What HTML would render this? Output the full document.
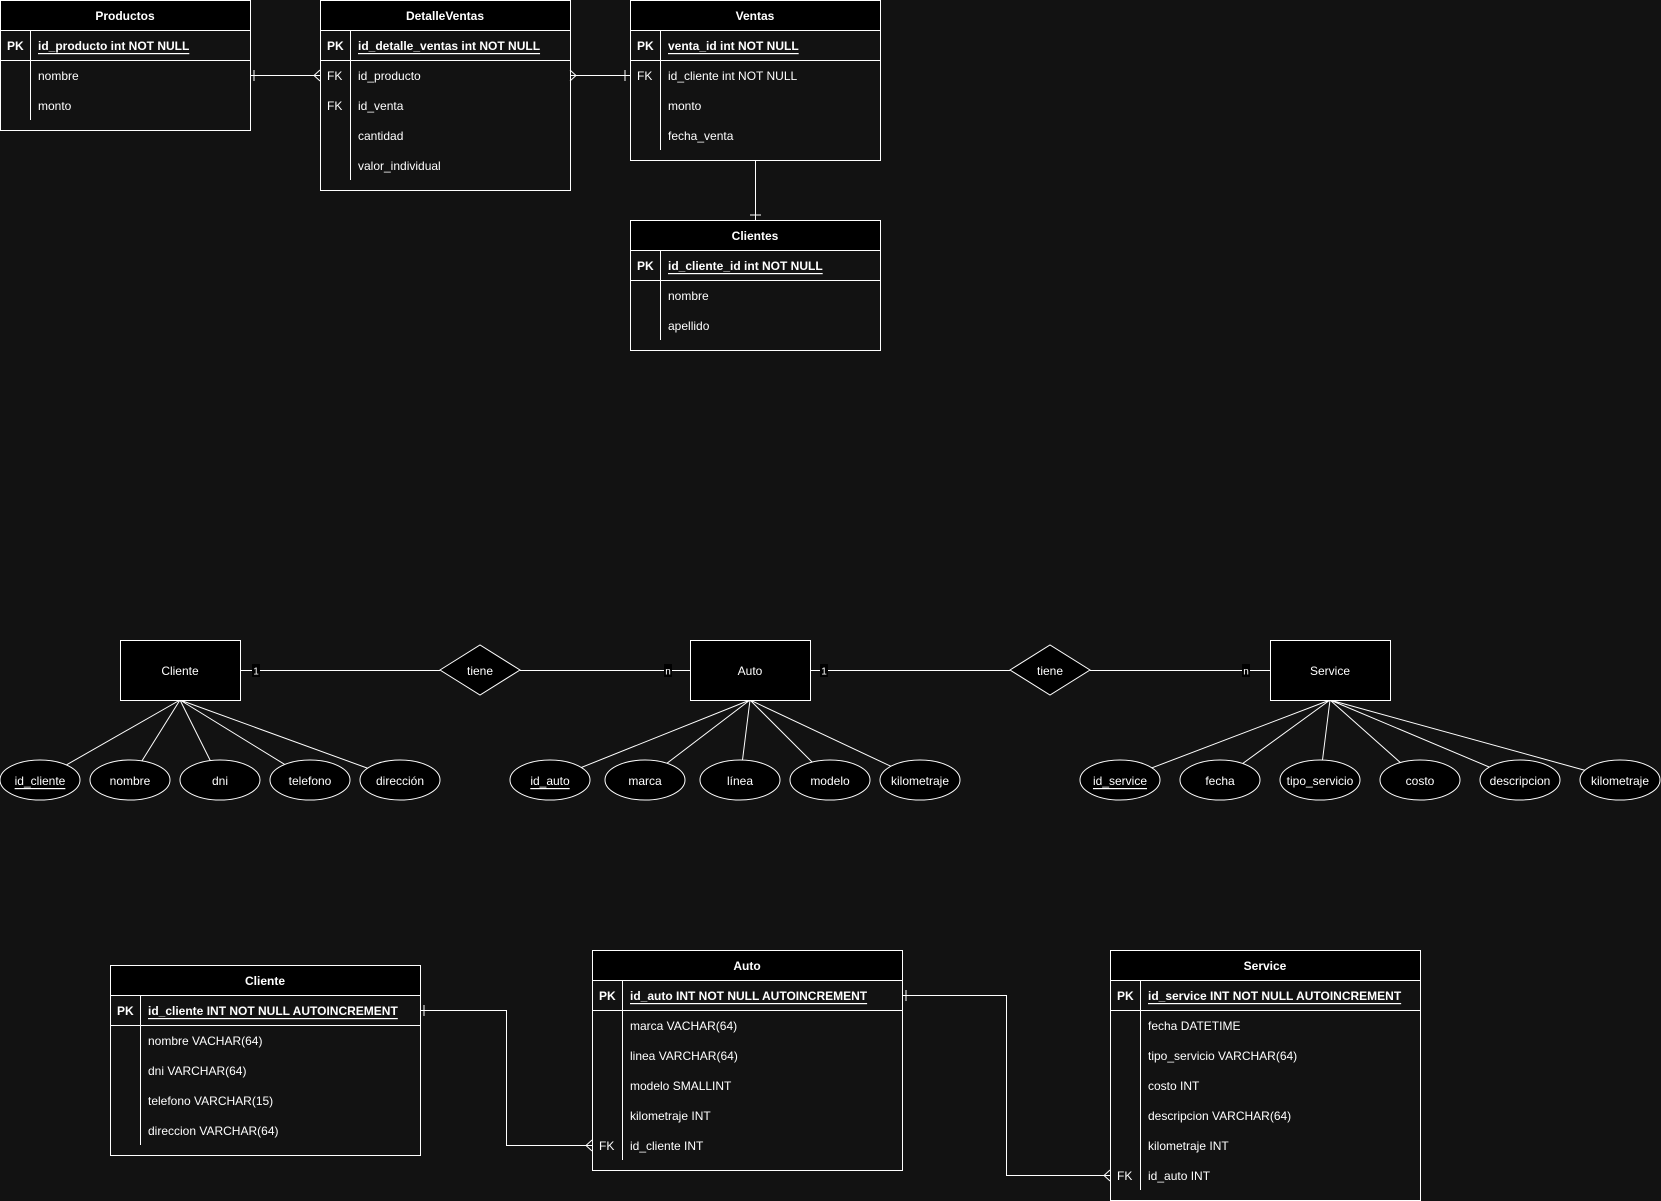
<!DOCTYPE html>
<html><head><meta charset="utf-8"><style>
html,body{margin:0;padding:0;background:#121212;}
svg{display:block;font-family:"Liberation Sans",sans-serif;}
</style></head><body>
<svg width="1661" height="1201" viewBox="0 0 1661 1201" xmlns="http://www.w3.org/2000/svg">
<rect width="1661" height="1201" fill="#121212"/>
<g stroke="#fff" stroke-width="1" fill="none">
<path d="M250 75.5H320"/><path d="M254 70v11"/><path d="M320 70l-6 5.5l6 5.5"/>
<path d="M570 75.5H630"/><path d="M570 70l6 5.5l-6 5.5"/><path d="M625 70v11"/>
<path d="M755.5 160V220"/><path d="M750 215h11"/>
<path d="M420 1010.5H506.5V1145.5H592"/><path d="M424 1005v11"/><path d="M592 1140l-6 5.5l6 5.5"/>
<path d="M902 995.5H1006.5V1175.5H1110"/><path d="M906 990v11"/><path d="M1110 1170l-6 5.5l6 5.5"/>
<path d="M240 670.5H440M520 670.5H690M810 670.5H1010M1090 670.5H1270"/>
<path d="M180 700L40 780M180 700L130 780M180 700L220 780M180 700L310 780M180 700L400 780"/>
<path d="M750 700L550 780M750 700L645 780M750 700L740 780M750 700L830 780M750 700L920 780"/>
<path d="M1330 700L1120 780M1330 700L1220 780M1330 700L1320 780M1330 700L1420 780M1330 700L1520 780M1330 700L1620 780"/>
</g>
<g fill="#000" stroke="#fff">
<rect x="120.5" y="640.5" width="120" height="60"/>
<rect x="690.5" y="640.5" width="120" height="60"/>
<rect x="1270.5" y="640.5" width="120" height="60"/>
<polygon points="440,670 480,645 520,670 480,695"/>
<polygon points="1010,670 1050,645 1090,670 1050,695"/>
</g>
<g fill="#000" stroke="#fff">
<ellipse cx="40" cy="780" rx="40" ry="20"/><ellipse cx="130" cy="780" rx="40" ry="20"/><ellipse cx="220" cy="780" rx="40" ry="20"/><ellipse cx="310" cy="780" rx="40" ry="20"/><ellipse cx="400" cy="780" rx="40" ry="20"/>
<ellipse cx="550" cy="780" rx="40" ry="20"/><ellipse cx="645" cy="780" rx="40" ry="20"/><ellipse cx="740" cy="780" rx="40" ry="20"/><ellipse cx="830" cy="780" rx="40" ry="20"/><ellipse cx="920" cy="780" rx="40" ry="20"/>
<ellipse cx="1120" cy="780" rx="40" ry="20"/><ellipse cx="1220" cy="780" rx="40" ry="20"/><ellipse cx="1320" cy="780" rx="40" ry="20"/><ellipse cx="1420" cy="780" rx="40" ry="20"/><ellipse cx="1520" cy="780" rx="40" ry="20"/><ellipse cx="1620" cy="780" rx="40" ry="20"/>
</g>
<g fill="#000"><rect x="252" y="664" width="8" height="13"/><rect x="664" y="664" width="8" height="13"/><rect x="820" y="664" width="8" height="13"/><rect x="1242" y="664" width="8" height="13"/></g>
<g fill="#fff" font-size="12" text-anchor="middle" dominant-baseline="central" transform="translate(0,1)">
<text x="256" y="671" font-size="10">1</text><text x="668" y="671" font-size="10">n</text><text x="824" y="671" font-size="10">1</text><text x="1246" y="671" font-size="10">n</text>
<text x="180" y="670">Cliente</text><text x="750" y="670">Auto</text><text x="1330" y="670">Service</text>
<text x="480" y="670">tiene</text><text x="1050" y="670">tiene</text>
<text x="40" y="780" text-decoration="underline">id_cliente</text><text x="130" y="780">nombre</text><text x="220" y="780">dni</text><text x="310" y="780">telefono</text><text x="400" y="780">dirección</text>
<text x="550" y="780" text-decoration="underline">id_auto</text><text x="645" y="780">marca</text><text x="740" y="780">línea</text><text x="830" y="780">modelo</text><text x="920" y="780">kilometraje</text>
<text x="1120" y="780" text-decoration="underline">id_service</text><text x="1220" y="780">fecha</text><text x="1320" y="780">tipo_servicio</text><text x="1420" y="780">costo</text><text x="1520" y="780">descripcion</text><text x="1620" y="780">kilometraje</text>
</g>
<g stroke="#fff" fill="none">
<rect x="0.5" y="0.5" width="250" height="130"/><rect x="0.5" y="0.5" width="250" height="30" fill="#000"/><path d="M0 60.5H250M30.5 30V120"/><path d="M0 30.5H250"/>
<rect x="320.5" y="0.5" width="250" height="190"/><rect x="320.5" y="0.5" width="250" height="30" fill="#000"/><path d="M320 60.5H570M350.5 30V180"/>
<rect x="630.5" y="0.5" width="250" height="160"/><rect x="630.5" y="0.5" width="250" height="30" fill="#000"/><path d="M630 60.5H880M660.5 30V150"/>
<rect x="630.5" y="220.5" width="250" height="130"/><rect x="630.5" y="220.5" width="250" height="30" fill="#000"/><path d="M630 280.5H880M660.5 250V340"/>
<rect x="110.5" y="965.5" width="310" height="190"/><rect x="110.5" y="965.5" width="310" height="30" fill="#000"/><path d="M110 1025.5H420M140.5 995V1145"/>
<rect x="592.5" y="950.5" width="310" height="220"/><rect x="592.5" y="950.5" width="310" height="30" fill="#000"/><path d="M592 1010.5H902M622.5 980V1160"/>
<rect x="1110.5" y="950.5" width="310" height="250"/><rect x="1110.5" y="950.5" width="310" height="30" fill="#000"/><path d="M1110 1010.5H1420M1140.5 980V1190"/>
</g>
<g fill="#fff" font-size="12" dominant-baseline="central" transform="translate(0,1)">
<g font-weight="bold" text-anchor="middle">
<text x="125" y="15">Productos</text><text x="445" y="15">DetalleVentas</text><text x="755" y="15">Ventas</text><text x="755" y="235">Clientes</text>
<text x="265" y="980">Cliente</text><text x="747" y="965">Auto</text><text x="1265" y="965">Service</text>
</g>
<g font-weight="bold">
<text x="7" y="45">PK</text><text x="38" y="45" text-decoration="underline">id_producto int NOT NULL</text>
<text x="327" y="45">PK</text><text x="358" y="45" text-decoration="underline">id_detalle_ventas int NOT NULL</text>
<text x="637" y="45">PK</text><text x="668" y="45" text-decoration="underline">venta_id int NOT NULL</text>
<text x="637" y="265">PK</text><text x="668" y="265" text-decoration="underline">id_cliente_id int NOT NULL</text>
<text x="117" y="1010">PK</text><text x="148" y="1010" text-decoration="underline">id_cliente INT NOT NULL AUTOINCREMENT</text>
<text x="599" y="995">PK</text><text x="630" y="995" text-decoration="underline">id_auto INT NOT NULL AUTOINCREMENT</text>
<text x="1117" y="995">PK</text><text x="1148" y="995" text-decoration="underline">id_service INT NOT NULL AUTOINCREMENT</text>
</g>
<text x="38" y="75">nombre</text><text x="38" y="105">monto</text>
<text x="327" y="75">FK</text><text x="358" y="75">id_producto</text><text x="327" y="105">FK</text><text x="358" y="105">id_venta</text><text x="358" y="135">cantidad</text><text x="358" y="165">valor_individual</text>
<text x="637" y="75">FK</text><text x="668" y="75">id_cliente int NOT NULL</text><text x="668" y="105">monto</text><text x="668" y="135">fecha_venta</text>
<text x="668" y="295">nombre</text><text x="668" y="325">apellido</text>
<text x="148" y="1040">nombre VACHAR(64)</text><text x="148" y="1070">dni VARCHAR(64)</text><text x="148" y="1100">telefono VARCHAR(15)</text><text x="148" y="1130">direccion VARCHAR(64)</text>
<text x="630" y="1025">marca VACHAR(64)</text><text x="630" y="1055">linea VARCHAR(64)</text><text x="630" y="1085">modelo SMALLINT</text><text x="630" y="1115">kilometraje INT</text><text x="599" y="1145">FK</text><text x="630" y="1145">id_cliente INT</text>
<text x="1148" y="1025">fecha DATETIME</text><text x="1148" y="1055">tipo_servicio VARCHAR(64)</text><text x="1148" y="1085">costo INT</text><text x="1148" y="1115">descripcion VARCHAR(64)</text><text x="1148" y="1145">kilometraje INT</text><text x="1117" y="1175">FK</text><text x="1148" y="1175">id_auto INT</text>
</g>
</svg>
</body></html>
